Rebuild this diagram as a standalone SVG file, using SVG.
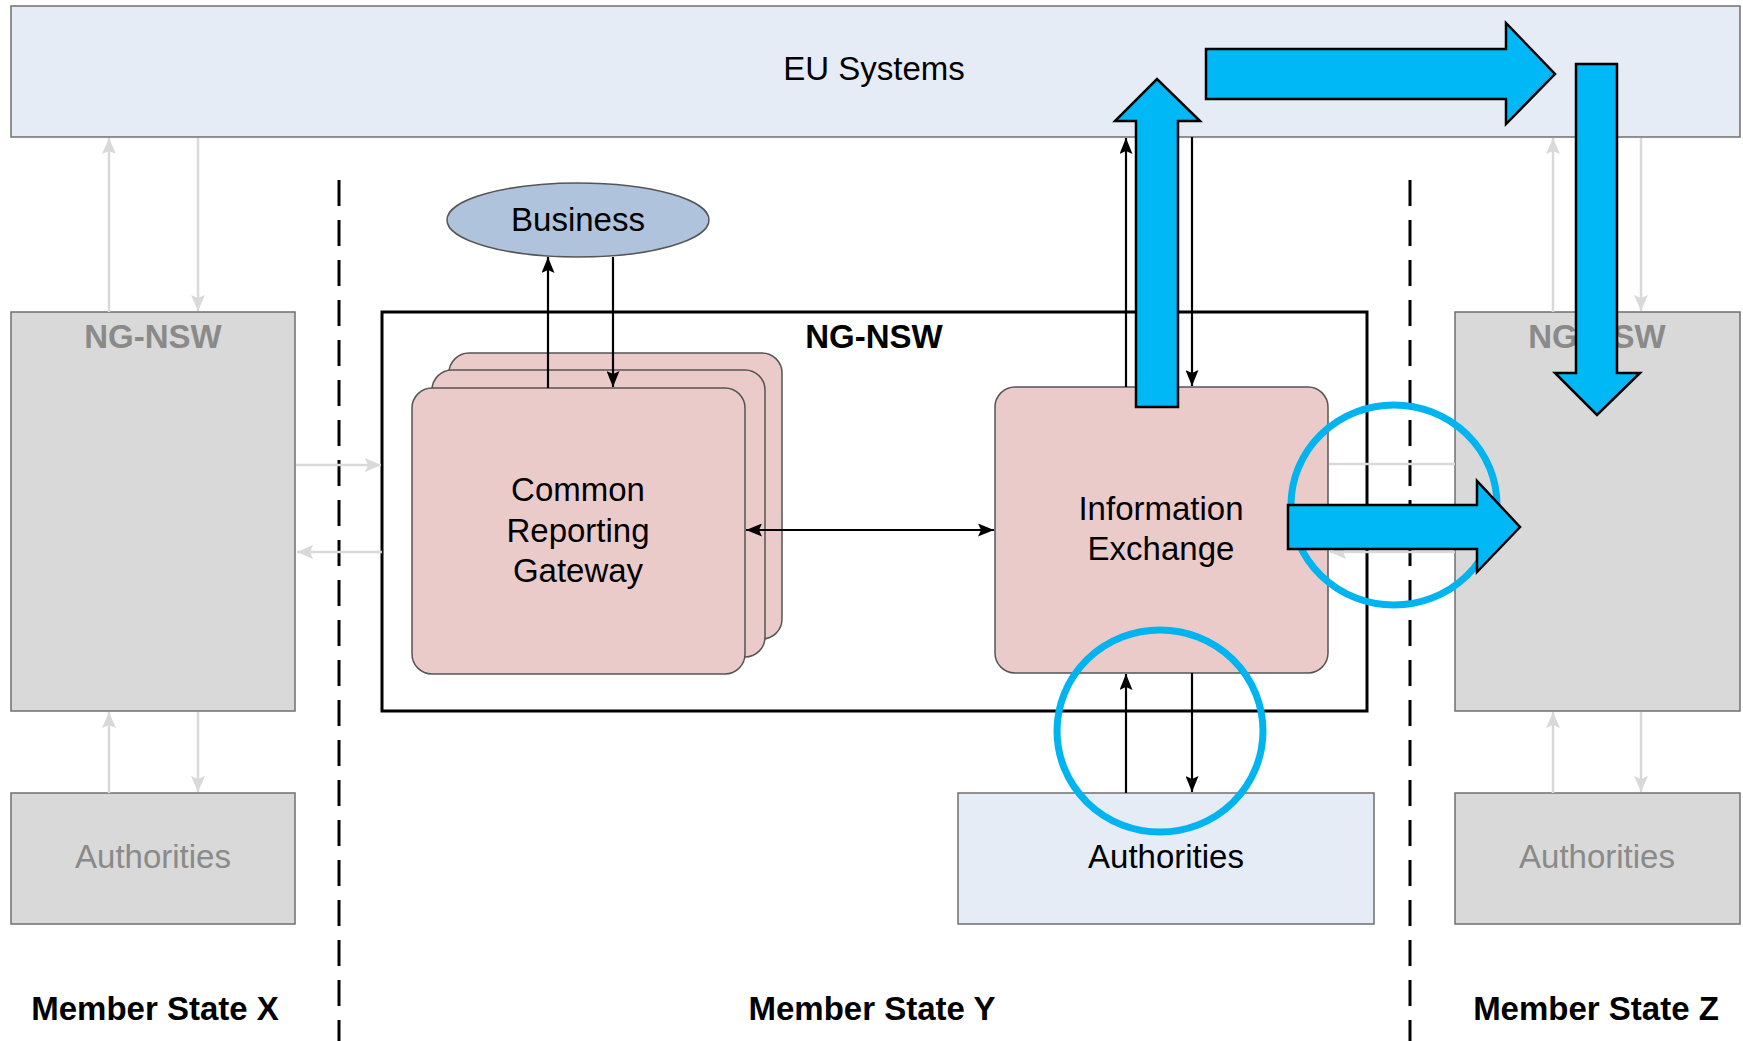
<svg xmlns="http://www.w3.org/2000/svg" width="1743" height="1041" viewBox="0 0 1743 1041">
<style>
text{font-family:"Liberation Sans",Arial,Helvetica,sans-serif;font-size:33px;text-anchor:middle;fill:#000}
.b{font-weight:bold}
.gt{fill:#8a8a8a}
.gbox{fill:#d9d9d9;stroke:#6f6f6f;stroke-width:1.5}
.lbox{fill:#e6ecf6;stroke:#6f6f6f;stroke-width:1.5}
.pink{fill:#ebcbca;stroke:#555;stroke-width:1.5}
.g{stroke:#d9d9d9;stroke-width:2.5;fill:none;marker-end:url(#ag)}
.k{stroke:#000;stroke-width:2.2;fill:none;marker-end:url(#ak)}
.dash{stroke:#000;stroke-width:3;stroke-dasharray:26 14;fill:none}
.blue{fill:#00b8f5;stroke:#000;stroke-width:2.5;stroke-linejoin:miter}
.ring{fill:none;stroke:#00b4ef;stroke-width:7}
</style>
<defs>
<marker id="ak" markerUnits="userSpaceOnUse" markerWidth="16" markerHeight="13" refX="16" refY="6.5" orient="auto-start-reverse"><path d="M0,0 L16,6.5 L0,13 L3,6.5 Z" fill="#000"/></marker>
<marker id="ag" markerUnits="userSpaceOnUse" markerWidth="16" markerHeight="14" refX="16" refY="7" orient="auto-start-reverse"><path d="M0,0 L16,7 L0,14 L3,7 Z" fill="#d9d9d9"/></marker>
</defs>
<rect width="1743" height="1041" fill="#fff"/>

<g id="eu-systems"><rect class="lbox" x="11" y="6" width="1729" height="131"/><text x="874" y="80">EU Systems</text></g>

<g id="separators">
<line class="dash" x1="339" y1="180" x2="339" y2="1041"/>
<line class="dash" x1="1410" y1="180" x2="1410" y2="1041"/>
</g>

<g id="ngnsw-x"><rect class="gbox" x="11" y="312" width="284" height="399"/><text class="b gt" x="153" y="348">NG-NSW</text></g>
<g id="auth-x"><rect class="gbox" x="11" y="793" width="284" height="131"/><text class="gt" x="153" y="868">Authorities</text></g>

<g id="ngnsw-y"><rect x="382" y="312" width="985" height="399" fill="#fff" stroke="#000" stroke-width="3"/><text class="b" x="874" y="348">NG-NSW</text></g>

<g id="business"><ellipse cx="578" cy="220" rx="131" ry="37" fill="#afc3dc" stroke="#555" stroke-width="1.5"/><text x="578" y="231">Business</text></g>

<g id="crg">
<rect class="pink" x="449" y="353" width="333" height="286" rx="20"/>
<rect class="pink" x="432" y="370" width="333" height="287" rx="20"/>
<rect class="pink" x="412" y="388" width="333" height="286" rx="20"/>
<text x="578" y="501">Common</text><text x="578" y="542">Reporting</text><text x="578" y="582">Gateway</text>
</g>

<g id="info-exchange"><rect class="pink" x="995" y="387" width="333" height="286" rx="20"/><text x="1161" y="520">Information</text><text x="1161" y="560">Exchange</text></g>

<g id="auth-y"><rect class="lbox" x="958" y="793" width="416" height="131"/><text x="1166" y="868">Authorities</text></g>

<g id="ngnsw-z"><rect class="gbox" x="1455" y="312" width="285" height="399"/><text class="b gt" x="1597" y="348">NG-NSW</text></g>
<g id="auth-z"><rect class="gbox" x="1455" y="793" width="285" height="131"/><text class="gt" x="1597" y="868">Authorities</text></g>

<g id="labels">
<text class="b" x="155" y="1020">Member State X</text>
<text class="b" x="872" y="1020">Member State Y</text>
<text class="b" x="1596" y="1020">Member State Z</text>
</g>

<g id="connectors">
<line class="g" x1="109" y1="312" x2="109" y2="138"/>
<line class="g" x1="198" y1="138" x2="198" y2="311"/>
<line class="g" x1="109" y1="793" x2="109" y2="712"/>
<line class="g" x1="198" y1="712" x2="198" y2="792"/>
<line class="g" x1="296" y1="465" x2="381" y2="465"/>
<line class="g" x1="382" y1="552" x2="297" y2="552"/>
<line class="g" x1="1553" y1="312" x2="1553" y2="138"/>
<line class="g" x1="1641" y1="138" x2="1641" y2="311"/>
<line class="g" x1="1553" y1="793" x2="1553" y2="712"/>
<line class="g" x1="1641" y1="712" x2="1641" y2="792"/>
<line x1="1329" y1="464" x2="1455" y2="464" stroke="#d9d9d9" stroke-width="2.5"/>
<line class="g" x1="1455" y1="552" x2="1330" y2="552"/>
<line class="k" x1="548" y1="388" x2="548" y2="257"/>
<line class="k" x1="613" y1="257" x2="613" y2="387"/>
<line class="k" x1="746" y1="530" x2="994" y2="530" marker-start="url(#ak)"/>
<line class="k" x1="1126" y1="387" x2="1126" y2="138"/>
<line class="k" x1="1192" y1="137" x2="1192" y2="386"/>
<line class="k" x1="1126" y1="793" x2="1126" y2="674"/>
<line class="k" x1="1192" y1="673" x2="1192" y2="792"/>
</g>

<g id="highlights">
<ellipse class="ring" cx="1394" cy="505" rx="103" ry="100"/>
<ellipse class="ring" cx="1160" cy="731" rx="103" ry="101"/>
<path class="blue" d="M1136,407 L1136,121 L1115,121 L1157,79 L1200,121 L1178,121 L1178,407 Z"/>
<path class="blue" d="M1206,49 L1506,49 L1506,23 L1555,74 L1506,124 L1506,99 L1206,99 Z"/>
<path class="blue" d="M1576,64 L1617,64 L1617,373 L1640,373 L1597,415 L1555,373 L1576,373 Z"/>
<path class="blue" d="M1288,505 L1477,505 L1477,481 L1520,527 L1477,572 L1477,549 L1288,549 Z"/>
</g>
</svg>
